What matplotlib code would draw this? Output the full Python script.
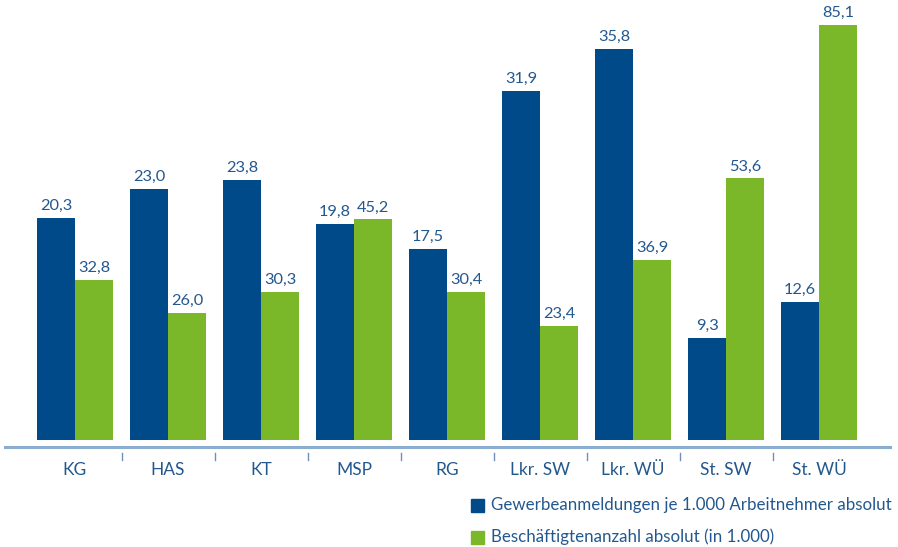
import matplotlib.pyplot as plt
import numpy as np
from matplotlib.lines import Line2D
from matplotlib.patches import Rectangle

plt.rcParams['font.family'] = ['Lato', 'DejaVu Sans']

regions = ['KG', 'HAS', 'KT', 'MSP', 'RG', 'Lkr. SW', 'Lkr. WÜ', 'St. SW', 'St. WÜ']
anmeldungen = [20.3, 23.0, 23.8, 19.8, 17.5, 31.9, 35.8, 9.3, 12.6]
beschaeftigte = [32.8, 26.0, 30.3, 45.2, 30.4, 23.4, 36.9, 53.6, 85.1]
legend_labels = ['Gewerbeanmeldungen je 1.000 Arbeitnehmer absolut',
                 'Beschäftigtenanzahl absolut (in 1.000)']

BLUE = '#004a8a'
GREEN = '#7ab829'
TEXT = '#23588f'
W, H = 898, 547

fig = plt.figure(figsize=(W / 100, H / 100), dpi=100)
# plot area in pixels: left 5, right 890, bars sit on y=440
ax = fig.add_axes([5 / W, (H - 440) / H, 885 / W, 440 / H])
ax2 = ax.twinx()

x = np.arange(len(regions))
bw = 38 / 93
ax.set_xlim(-70 / 93, 815 / 93)
ax.set_ylim(0, 440 / 10.93)
ax2.set_ylim(0, 440 / 4.88)

ax.bar(x - bw / 2, anmeldungen, bw, color=BLUE, linewidth=0)
ax2.bar(x + bw / 2, beschaeftigte, bw, color=GREEN, linewidth=0)

def fmt(v):
    return f'{v:.1f}'.replace('.', ',')

for xi, v in zip(x, anmeldungen):
    ax.annotate(fmt(v), (xi - bw / 2, v), xytext=(0, 5), textcoords='offset pixels',
                ha='center', va='bottom', fontsize=11.8, color=TEXT)
for xi, v in zip(x, beschaeftigte):
    ax2.annotate(fmt(v), (xi + bw / 2, v), xytext=(0, 5), textcoords='offset pixels',
                 ha='center', va='bottom', fontsize=11.8, color=TEXT)

for a in (ax, ax2):
    a.axis('off')

# baseline below the bars
fig.add_artist(Line2D([5 / W, 890 / W], [(H - 447) / H] * 2, color='#8aadd0', lw=2.2))

# category labels and separators
for xi, name in zip(x, regions):
    ax.text(xi, -30 / 10.93, name, ha='center', va='center', fontsize=12.5, color=TEXT,
            clip_on=False)
for xi in x[:-1] + 0.5:
    ax.plot([xi, xi], [-13 / 10.93, -20 / 10.93], color='#6f8fb4', lw=1, clip_on=False)

# legend
for i, (lab, col) in enumerate(zip(legend_labels, [BLUE, GREEN])):
    yc = 505 + 32 * i
    fig.add_artist(Rectangle((471 / W, (H - yc - 6.5) / H), 13 / W, 13 / H, color=col,
                             transform=fig.transFigure))
    fig.text(491 / W, (H - yc) / H, lab, ha='left', va='center', fontsize=12.2, color=TEXT)

fig.savefig('out.png', dpi=100)
